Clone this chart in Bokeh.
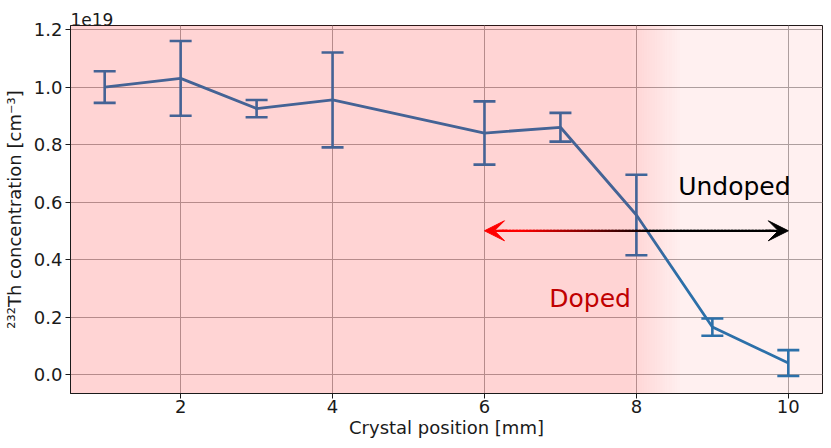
import numpy as np
from bokeh.plotting import figure
from bokeh.models import Range1d, Label, Arrow, VeeHead, FixedTicker, Title, CustomJSTickFormatter
from bokeh.embed import file_html
from bokeh.resources import INLINE

# ---- data (concentration in units of 1e19 cm^-3) ----
positions = [1, 2, 3, 4, 6, 7, 8, 9, 10]
concentration = [1.00, 1.03, 0.925, 0.955, 0.84, 0.86, 0.555, 0.165, 0.04]
errors = [0.055, 0.13, 0.03, 0.165, 0.11, 0.05, 0.14, 0.03, 0.045]
x_ticks = [2, 4, 6, 8, 10]
y_ticks = [0.0, 0.2, 0.4, 0.6, 0.8, 1.0, 1.2]

# region annotation
arrow_start, arrow_end, arrow_y = 6, 10, 0.5
doped_end, fade_end = 7.95, 8.6
grad_red_until, grad_black_from = 6.5, 8.2

FONT = "DejaVu Sans"
LINE_COLOR = "#1f77b4"
TXT = "#1a1a1a"

p = figure(width=823, height=440, output_backend="svg",
           toolbar_location=None,
           x_range=Range1d(0.55, 10.45), y_range=Range1d(-0.066, 1.214),
           min_border_left=69, min_border_right=1, min_border_top=25,
           min_border_bottom=47)
p.background_fill_color = "white"
p.border_fill_color = "white"
p.outline_line_color = TXT
p.outline_line_width = 1

# scale factor shown above the frame
p.title = Title(text="1e19", align="left", text_font=FONT, text_font_size="17px",
                text_font_style="normal", text_color=TXT, standoff=0, offset=0)

# grid
for g in (p.xgrid, p.ygrid):
    g.grid_line_color = "#a8a8a8"
    g.grid_line_width = 1
p.xgrid.ticker = FixedTicker(ticks=x_ticks)
p.ygrid.ticker = FixedTicker(ticks=y_ticks)

# axes
p.xaxis.ticker = FixedTicker(ticks=x_ticks)
p.yaxis.ticker = FixedTicker(ticks=y_ticks)
p.yaxis.formatter = CustomJSTickFormatter(code="return tick.toFixed(1);")
for ax in (p.xaxis, p.yaxis):
    ax.axis_line_color = TXT
    ax.major_tick_line_color = TXT
    ax.major_tick_out = 5
    ax.major_tick_in = 0
    ax.minor_tick_line_color = None
    ax.major_label_text_font = FONT
    ax.major_label_text_font_size = "18px"
    ax.major_label_text_color = TXT
    ax.axis_label_text_font = FONT
    ax.axis_label_text_font_size = "18px"
    ax.axis_label_text_font_style = "normal"
    ax.axis_label_text_color = TXT
p.xaxis.major_label_standoff = 1
p.xaxis.axis_label_standoff = 1
p.yaxis.major_label_standoff = 3
p.yaxis.axis_label_standoff = 6
p.xaxis.axis_label = "Crystal position [mm]"
p.yaxis.axis_label = "²³²Th concentration [cm⁻³]"

# data line with error bars
xs = np.array(positions, dtype=float)
ys = np.array(concentration)
es = np.array(errors)
p.line(xs, ys, line_color=LINE_COLOR, line_width=2.8)
p.segment(xs, ys - es, xs, ys + es, line_color=LINE_COLOR, line_width=2.6)
p.scatter(xs, ys + es, marker="dash", size=22, line_color=LINE_COLOR, line_width=2.6)
p.scatter(xs, ys - es, marker="dash", size=22, line_color=LINE_COLOR, line_width=2.6)

# shaded overlay: doped (strong) -> fade -> undoped (light)
a_strong, a_light = 0.17, 0.06
p.quad(left=-1, right=doped_end, bottom=-5, top=5, fill_color="red",
       fill_alpha=a_strong, line_color=None)
n = 30
edges = np.linspace(doped_end, fade_end, n + 1)
alphas = np.linspace(a_strong, a_light, n + 2)[1:-1]
p.quad(left=edges[:-1], right=edges[1:], bottom=-5, top=5, fill_color="red",
       fill_alpha=alphas, line_color=None)
p.quad(left=fade_end, right=20, bottom=-5, top=5, fill_color="red",
       fill_alpha=a_light, line_color=None)

# gradient double arrow red -> black
m = 80
ax_edges = np.linspace(arrow_start + 0.2, arrow_end - 0.2, m + 1)
mids = 0.5 * (ax_edges[:-1] + ax_edges[1:])
frac = np.clip((grad_black_from - mids) / (grad_black_from - grad_red_until), 0, 1)
cols = ["#%02x0000" % int(round(255 * f)) for f in frac]
p.segment(ax_edges[:-1], [arrow_y] * m, ax_edges[1:], [arrow_y] * m,
          line_color=cols, line_width=2.2, line_cap="square")
p.add_layout(Arrow(end=VeeHead(size=20, fill_color="red", line_color="red", line_width=1),
                   x_start=arrow_start + 0.3, y_start=arrow_y, x_end=arrow_start, y_end=arrow_y,
                   line_color="red", line_width=2.2))
p.add_layout(Arrow(end=VeeHead(size=20, fill_color="black", line_color="black", line_width=1),
                   x_start=arrow_end - 0.3, y_start=arrow_y, x_end=arrow_end, y_end=arrow_y,
                   line_color="black", line_width=2.2))

p.add_layout(Label(x=9.29, y=0.654, text="Undoped", text_font=FONT,
                   text_font_size="25px", text_color="black",
                   text_align="center", text_baseline="middle"))
p.add_layout(Label(x=7.39, y=0.264, text="Doped", text_font=FONT,
                   text_font_size="25px", text_color="#c00000",
                   text_align="center", text_baseline="middle"))

open("out.html", "w").write(file_html(p, INLINE))
